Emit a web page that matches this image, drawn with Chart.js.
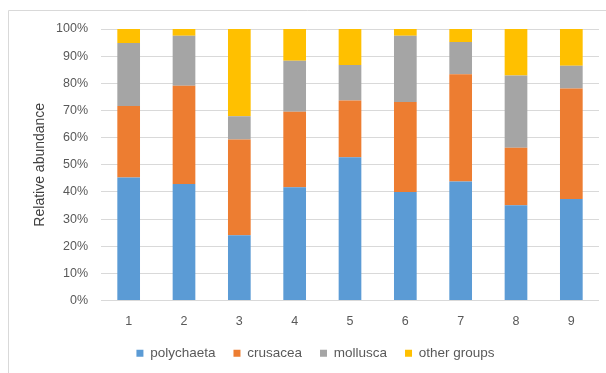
<!DOCTYPE html>
<html>
<head>
<meta charset="utf-8">
<script src="https://cdn.jsdelivr.net/npm/chart.js@4/dist/chart.umd.min.js"></script>
<style>
  html, body { margin: 0; padding: 0; background: #fff; }
  #wrap { width: 606px; height: 373px; position: relative; }
</style>
</head>
<body>
<div id="wrap"><canvas id="myChart"></canvas></div>
<script>
// sampling stations
const estaciones = ['1', '2', '3', '4', '5', '6', '7', '8', '9'];

// relative abundance per group, % of each station
const polychaeta = [45.3, 42.9, 24.0, 41.7, 52.8, 40.0, 43.8, 35.1, 37.4];
const crusacea   = [26.3, 36.2, 35.3, 27.8, 20.9, 33.1, 39.5, 21.2, 40.7];
const mollusca   = [23.2, 18.4,  8.6, 18.8, 13.0, 24.4, 11.9, 26.6,  8.4];
const otros      = [ 5.2,  2.5, 32.1, 11.7, 13.3,  2.5,  4.8, 17.1, 13.5];

const grupos = ['polychaeta', 'crusacea', 'mollusca', 'other groups'];
const colores = ['#5B9BD5', '#ED7D31', '#A5A5A5', '#FFC000'];

const fuente = 'Liberation Sans, Arial, sans-serif';
const gris = '#595959';

// thin frame along the top and left edge
const marco = {
  id: 'marco',
  beforeDraw(chart) {
    const c = chart.ctx;
    c.save();
    c.strokeStyle = '#d9d9d9';
    c.lineWidth = 1;
    c.beginPath();
    c.moveTo(8.5, chart.height);
    c.lineTo(8.5, 10.5);
    c.lineTo(chart.width, 10.5);
    c.stroke();
    c.restore();
  }
};

const ctx = document.getElementById('myChart');
const series = [polychaeta, crusacea, mollusca, otros];

let grafica = new Chart(ctx, {
  type: 'bar',
  data: {
    labels: estaciones,
    datasets: series.map((d, i) => ({
      label: grupos[i],
      data: d,
      backgroundColor: colores[i],
      borderWidth: 0,
      categoryPercentage: 1,
      barPercentage: 0.41
    }))
  },
  options: {
    responsive: true,
    maintainAspectRatio: false,
    animation: false,
    layout: { padding: { left: 32, right: 7, top: 29, bottom: 3 } },
    plugins: {
      tooltip: { enabled: false },
      legend: {
        position: 'bottom',
        labels: {
          boxWidth: 7,
          boxHeight: 7,
          padding: 18,
          color: gris,
          font: { family: fuente, size: 13.5 }
        }
      }
    },
    scales: {
      x: {
        stacked: true,
        afterFit(scale) { scale.height = 28; },
        grid: { display: false },
        border: { display: false },
        ticks: { color: gris, padding: 6, font: { family: fuente, size: 12.5 } }
      },
      y: {
        stacked: true,
        min: 0,
        max: 100,
        afterFit(scale) { scale.width = 69; },
        grid: { color: '#d9d9d9', drawTicks: false },
        border: { display: false },
        ticks: {
          stepSize: 10,
          padding: 13,
          color: gris,
          font: { family: fuente, size: 12.5 },
          callback: v => v + '%'
        },
        title: {
          display: true,
          text: 'Relative abundance',
          color: '#404040',
          padding: { top: 0, bottom: 0 },
          font: { family: fuente, size: 14 }
        }
      }
    }
  },
  plugins: [marco]
});
</script>
</body>
</html>
